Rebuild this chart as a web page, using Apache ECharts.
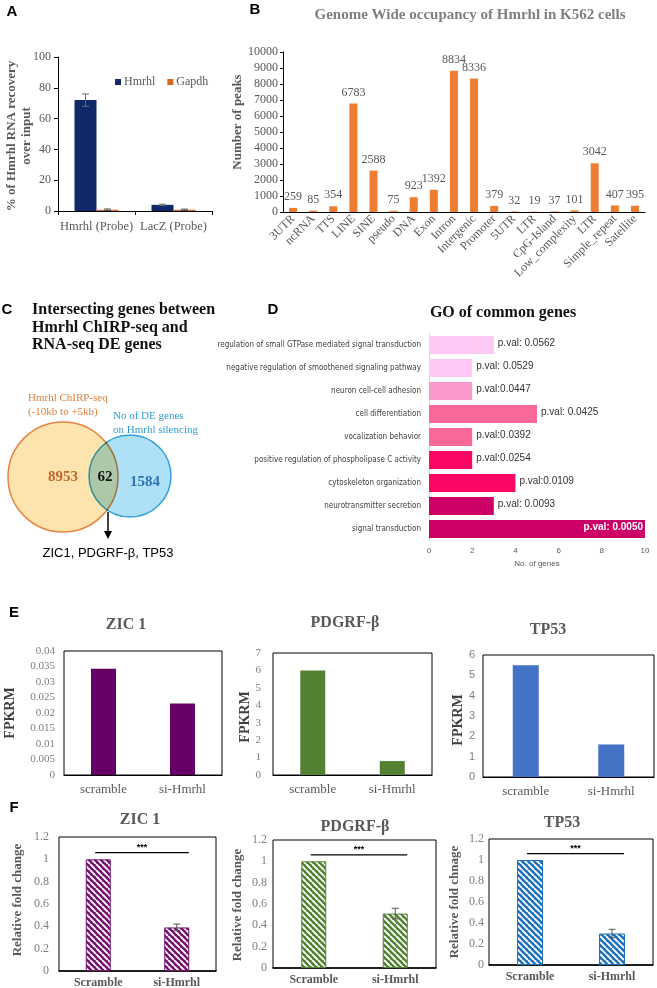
<!DOCTYPE html>
<html><head><meta charset="utf-8">
<script src="https://cdn.jsdelivr.net/npm/echarts@6/dist/echarts.min.js"></script>
<style>html,body{margin:0;padding:0;background:#fff}#c{width:657px;height:988px}</style>
</head><body><div id="c"></div>
<script>
// ---------- DATA ----------
// Panel A
const probeCats = ['Hmrhl (Probe)', 'LacZ (Probe)'];
const hmrhlRecovery = [72, 4];
const hmrhlRecoveryErr = [4, 0.4];
const gapdhRecovery = [0.8, 0.8];
const gapdhRecoveryErr = [0.5, 0.4];
const recoveryTicks = [0, 100, 20];

// Panel B
const regionCats = ['3UTR','ncRNA','TTS','LINE','SINE','pseudo','DNA','Exon','Intron','Intergenic','Promoter','5UTR','LTR','CpG-Island','Low_complexity','LTR','Simple_repeat','Satellite'];
const peakCounts = [259,85,354,6783,2588,75,923,1392,8834,8336,379,32,19,37,101,3042,407,395];
const peakTicks = [0, 10000, 1000];

// Panel C
const vennSetA = ['Hmrhl ChIRP-seq', '(-10kb to +5kb)'];
const vennSetB = ['No of DE genes', 'on Hmrhl silencing'];
const vennCounts = [8953, 62, 1584];
const commonGenes = 'ZIC1, PDGRF-β, TP53';

// Panel D
const goTerms = ['regulation of small GTPase mediated signal transduction','negative regulation of smoothened signaling pathway','neuron cell-cell adhesion','cell differentiation','vocalization behavior','positive regulation of phospholipase C activity','cytoskeleton organization','neurotransmitter secretion','signal transduction'];
const goGeneCounts = [3,2,2,5,2,2,4,3,10];
const goPvals = ['p.val: 0.0562','p.val: 0.0529','p.val:0.0447','p.val: 0.0425','p.val:0.0392','p.val:0.0254','p.val:0.0109','p.val: 0.0093','p.val: 0.0050'];
const goTicks = [0, 10, 2];

// Panel E
const conditionsE = ['scramble','si-Hmrhl'];
const fpkmZIC1 = [0.0343, 0.0231];
const fpkmPDGRFB = [6.0, 0.8];
const fpkmTP53 = [5.5, 1.6];
const fpkmTicksZIC1 = [0, 0.04, 0.005];
const fpkmTicksPDGRFB = [0, 7, 1];
const fpkmTicksTP53 = [0, 6, 1];

// Panel F
const conditionsF = ['Scramble','si-Hmrhl'];
const foldZIC1 = [1.0, 0.39];
const foldZIC1Err = [0, 0.03];
const foldPDGRFB = [1.0, 0.51];
const foldPDGRFBErr = [0, 0.05];
const foldTP53 = [1.0, 0.30];
const foldTP53Err = [0, 0.04];
const foldTicks = [0, 1.2, 0.2];
const sigLabel = '***';
const sigHeight = 1.06;

// ---------- STYLE ----------
const serif = "'Liberation Serif','Times New Roman',serif";
const sans = "'Liberation Sans',Arial,sans-serif";
const narrow = "'Liberation Sans Narrow','DejaVu Sans Condensed','Liberation Sans',sans-serif";
const goColors = ['#fdc8f3','#fdc8f3','#fb99ca','#fa6898','#fa6898','#fc0766','#fc0766','#cc0066','#cc0066'];

function hatch(color){
  const s = 6, c = document.createElement('canvas'); c.width = s; c.height = s;
  const g = c.getContext('2d'); g.fillStyle = color; g.fillRect(0,0,s,s);
  g.strokeStyle = '#fff'; g.lineWidth = 1.9; g.beginPath();
  for (const k of [-s, 0, s]) { g.moveTo(k, 0); g.lineTo(k + s, s); }
  g.stroke();
  return {image: c, repeat: 'repeat'};
}

const G = (o) => Object.assign({containLabel:false, outerBoundsMode:'none'}, o);
const box = {show:true, borderColor:'#000', borderWidth:1, backgroundColor:'transparent'};
const plain = (v) => String(v);

function valAxis(gi, t, o){
  return Object.assign({type:'value', gridIndex:gi, min:t[0], max:t[1], interval:t[2],
    axisLine:{show:false}, axisTick:{show:false}, splitLine:{show:false},
    axisLabel:{fontFamily:serif, fontSize:11, color:'#7f7f7f', margin:8}}, o || {});
}
function catAxis(gi, data, o){
  return Object.assign({type:'category', gridIndex:gi, data:data,
    axisLine:{show:true, lineStyle:{color:'#000', width:1}}, axisTick:{show:false},
    axisLabel:{interval:0, hideOverlap:false, fontFamily:serif, fontSize:13, color:'#595959', margin:8}}, o || {});
}

function errorBars(ai, vals, errs, offset, color){
  return {type:'custom', xAxisIndex:ai, yAxisIndex:ai, z:5, silent:true,
    data: vals.map((v,i)=>[i, v-errs[i], v+errs[i]]).filter(d => d[2] > d[1]),
    renderItem(params, api){
      const lo = api.coord([api.value(0), api.value(1)]);
      const hi = api.coord([api.value(0), api.value(2)]);
      const x = lo[0] + offset, w = 3.5;
      const st = {stroke:color, lineWidth:1};
      return {type:'group', children:[
        {type:'line', shape:{x1:x,y1:lo[1],x2:x,y2:hi[1]}, style:st},
        {type:'line', shape:{x1:x-w,y1:hi[1],x2:x+w,y2:hi[1]}, style:st},
        {type:'line', shape:{x1:x-w,y1:lo[1],x2:x+w,y2:lo[1]}, style:st}
      ]};
    }};
}
function sigBar(ai){
  return {type:'custom', xAxisIndex:ai, yAxisIndex:ai, z:6, silent:true,
    data:[[0, 1, sigHeight]],
    renderItem(params, api){
      const a = api.coord([api.value(0), api.value(2)]);
      const b = api.coord([api.value(1), api.value(2)]);
      const x1 = a[0] - 3, x2 = b[0] + 12;
      return {type:'group', children:[
        {type:'line', shape:{x1:x1,y1:a[1],x2:x2,y2:a[1]}, style:{stroke:'#000', lineWidth:1.2}},
        {type:'text', x:(x1+x2)/2, y:a[1]-1, style:{text:sigLabel, align:'center', verticalAlign:'bottom', textAlign:'center', textVerticalAlign:'bottom', font:'bold 9px ' + sans, fill:'#000'}}
      ]};
    }};
}
function simpleBars(ai, vals, color, o){
  return Object.assign({type:'bar', xAxisIndex:ai, yAxisIndex:ai, data:vals, barWidth:25,
    itemStyle:{color:color}}, o || {});
}

function T(text, x, y, font, fill, extra){
  const al = (extra && extra.align) || 'center';
  const va = (extra && extra.verticalAlign) || 'middle';
  return Object.assign({type:'text', x:x, y:y, z:10, silent:true,
    style:{text:text, font:font, fill:fill, align:al, verticalAlign:va, textAlign:al, textVerticalAlign:va}},
    extra && extra.rotation ? {rotation: extra.rotation} : {});
}
const R90 = Math.PI / 2;

// ---------- OPTION ----------
const goData = goGeneCounts.map((v, i) => ({
  value: v, itemStyle: {color: goColors[i]},
  label: v >= goTicks[1]
    ? {position:'insideRight', color:'#fff', fontWeight:'bold', distance:2}
    : {position:'right', color:'#333', distance:4}
}));
const fBoldLabel = {interval:0, hideOverlap:false, fontFamily:serif, fontSize:12, fontWeight:'bold', color:'#595959', margin:6};

const option = {
  animation: false,
  backgroundColor: '#fff',
  grid: [
    G({left:58, top:57, width:154, height:154}),
    G({left:283, top:52, width:362, height:160}),
    G({left:429, top:333.5, width:216, height:207}),
    G(Object.assign({left:64, top:651, width:158, height:124}, box)),
    G(Object.assign({left:273, top:653, width:159, height:122}, box)),
    G(Object.assign({left:483, top:655, width:171, height:122}, box)),
    G(Object.assign({left:59, top:837, width:157, height:134}, box)),
    G(Object.assign({left:273, top:840, width:163, height:128}, box)),
    G(Object.assign({left:489, top:839, width:164, height:126}, box))
  ],
  legend: {
    data:['Hmrhl','Gapdh'], left:110, top:71, itemWidth:6, itemHeight:6, itemGap:12,
    icon:'rect', selectedMode:false,
    textStyle:{fontFamily:serif, fontSize:12, color:'#595959', padding:[0,0,0,-2]}
  },
  xAxis: [
    catAxis(0, probeCats, {axisTick:{show:true, length:4, lineStyle:{color:'#000'}}, axisLabel:{interval:0, hideOverlap:false, fontFamily:serif, fontSize:12.5, color:'#595959', margin:9}}),
    catAxis(1, regionCats, {axisLabel:{interval:0, hideOverlap:false, rotate:45, fontFamily:serif, fontSize:12, color:'#595959', margin:5}}),
    {type:'value', gridIndex:2, min:goTicks[0], max:goTicks[1], interval:goTicks[2],
      axisLine:{show:false}, axisTick:{show:false}, splitLine:{show:false},
      axisLabel:{fontFamily:sans, fontSize:8, color:'#595959', margin:6},
      name:'No. of genes', nameLocation:'middle', nameGap:19,
      nameTextStyle:{fontFamily:sans, fontSize:8, color:'#595959'}},
    catAxis(3, conditionsE),
    catAxis(4, conditionsE),
    catAxis(5, conditionsE),
    catAxis(6, conditionsF, {axisLine:{show:true, lineStyle:{color:'#000', width:1.5}}, axisLabel:fBoldLabel}),
    catAxis(7, conditionsF, {axisLine:{show:true, lineStyle:{color:'#000', width:1.5}}, axisLabel:fBoldLabel}),
    catAxis(8, conditionsF, {axisLine:{show:true, lineStyle:{color:'#000', width:1.5}}, axisLabel:fBoldLabel})
  ],
  yAxis: [
    valAxis(0, recoveryTicks, {axisLine:{show:true, lineStyle:{color:'#000'}}, axisTick:{show:true, length:4, lineStyle:{color:'#000'}},
      axisLabel:{fontFamily:serif, fontSize:12, color:'#595959', margin:7, formatter:plain}}),
    valAxis(1, peakTicks, {axisLine:{show:true, lineStyle:{color:'#000'}}, axisTick:{show:true, length:3, lineStyle:{color:'#000'}},
      axisLabel:{fontFamily:serif, fontSize:12, color:'#595959', margin:5, formatter:plain}}),
    {type:'category', gridIndex:2, data:goTerms, inverse:true,
      axisLine:{show:true, lineStyle:{color:'#d9d9d9'}}, axisTick:{show:false},
      axisLabel:{interval:0, fontFamily:narrow, fontSize:8, color:'#404040', margin:8}},
    valAxis(3, fpkmTicksZIC1, {axisLabel:{fontFamily:serif, fontSize:11, color:'#7f7f7f', margin:9}}),
    valAxis(4, fpkmTicksPDGRFB, {axisLabel:{fontFamily:serif, fontSize:11, color:'#7f7f7f', margin:12}}),
    valAxis(5, fpkmTicksTP53, {axisLabel:{fontFamily:sans, fontSize:11, color:'#7f7f7f', margin:8}}),
    valAxis(6, foldTicks, {axisLabel:{fontFamily:serif, fontSize:12, color:'#7f7f7f', margin:10}}),
    valAxis(7, foldTicks, {axisLabel:{fontFamily:serif, fontSize:12, color:'#7f7f7f', margin:6}}),
    valAxis(8, foldTicks, {axisLabel:{fontFamily:serif, fontSize:12, color:'#7f7f7f', margin:5}})
  ],
  series: [
    // A
    {name:'Hmrhl', type:'bar', xAxisIndex:0, yAxisIndex:0, data:hmrhlRecovery, barWidth:22, barGap:'0%', itemStyle:{color:'#10296b'}},
    {name:'Gapdh', type:'bar', xAxisIndex:0, yAxisIndex:0, data:gapdhRecovery, barWidth:22, barGap:'0%', itemStyle:{color:'#d5691f'}},
    errorBars(0, hmrhlRecovery, hmrhlRecoveryErr, -11, '#6a6a6a'),
    errorBars(0, gapdhRecovery, gapdhRecoveryErr, 11, '#555'),
    // B
    {type:'bar', xAxisIndex:1, yAxisIndex:1, data:peakCounts, barWidth:8, itemStyle:{color:'#ed7d31'},
      label:{show:true, position:'top', distance:5, fontFamily:serif, fontSize:12, color:'#595959'}},
    // D
    {type:'bar', xAxisIndex:2, yAxisIndex:2, data:goData, barCategoryGap:'22%',
      label:{show:true, fontFamily:sans, fontSize:10, offset:[0,-2], formatter:(p)=>goPvals[p.dataIndex]}},
    // E
    simpleBars(3, fpkmZIC1, '#660066'),
    simpleBars(4, fpkmPDGRFB, '#548235'),
    simpleBars(5, fpkmTP53, '#4472c4', {barWidth:26}),
    // F
    simpleBars(6, foldZIC1, null, {itemStyle:{color:hatch('#74126f'), borderColor:'#74126f', borderWidth:1}}),
    simpleBars(7, foldPDGRFB, null, {itemStyle:{color:hatch('#548235'), borderColor:'#548235', borderWidth:1}}),
    simpleBars(8, foldTP53, null, {barWidth:26, itemStyle:{color:hatch('#1f72bd'), borderColor:'#1f72bd', borderWidth:1}}),
    errorBars(6, foldZIC1, foldZIC1Err, 0, '#555'),
    errorBars(7, foldPDGRFB, foldPDGRFBErr, 0, '#555'),
    errorBars(8, foldTP53, foldTP53Err, 0, '#555'),
    sigBar(6), sigBar(7), sigBar(8)
  ],
  graphic: [
    // panel letters
    T('A', 12, 12, 'bold 15px ' + sans, '#000'),
    T('B', 255, 10, 'bold 15px ' + sans, '#000'),
    T('C', 7, 310, 'bold 15px ' + sans, '#000'),
    T('D', 273, 310, 'bold 15px ' + sans, '#000'),
    T('E', 14, 613, 'bold 15px ' + sans, '#000'),
    T('F', 14, 808, 'bold 15px ' + sans, '#000'),
    // A
    T('% of Hmrhl RNA recovery', 12, 136, 'bold 13px ' + serif, '#595959', {rotation:R90}),
    T('over input', 27, 136, 'bold 13px ' + serif, '#595959', {rotation:R90}),
    // B
    T('Genome Wide occupancy of Hmrhl in K562 cells', 470, 15, 'bold 15px ' + serif, '#7f7f7f'),
    T('Number of peaks', 238, 122, 'bold 13px ' + serif, '#595959', {rotation:R90}),
    // C
    T('Intersecting genes between', 32, 310, 'bold 16px ' + serif, '#111', {align:'left'}),
    T('Hmrhl ChIRP-seq and', 32, 328, 'bold 16px ' + serif, '#111', {align:'left'}),
    T('RNA-seq DE genes', 32, 345, 'bold 16px ' + serif, '#111', {align:'left'}),
    {type:'circle', shape:{cx:63, cy:477, r:55}, style:{fill:'#fde4ae', stroke:'#e8843f', lineWidth:1.5}, z:5, silent:true},
    {type:'circle', shape:{cx:130, cy:476, r:41}, style:{fill:'#aee0f7', stroke:'#3aacdf', lineWidth:1.5, blend:'multiply'}, z:6, silent:true},
    T(vennSetA[0], 28, 398, '11px ' + serif, '#e0803a', {align:'left'}),
    T(vennSetA[1], 28, 412, '11px ' + serif, '#e0803a', {align:'left'}),
    T(vennSetB[0], 113, 416, '11px ' + serif, '#2f9bd6', {align:'left'}),
    T(vennSetB[1], 113, 430, '11px ' + serif, '#2f9bd6', {align:'left'}),
    T(String(vennCounts[0]), 63, 477, 'bold 15px ' + serif, '#c0692a'),
    T(String(vennCounts[1]), 105, 477, 'bold 15px ' + serif, '#111'),
    T(String(vennCounts[2]), 145, 482, 'bold 15px ' + serif, '#2f75b5'),
    {type:'line', shape:{x1:108, y1:512, x2:108, y2:532}, style:{stroke:'#000', lineWidth:1.5}, z:10, silent:true},
    {type:'polygon', shape:{points:[[104,531],[112,531],[108,539]]}, style:{fill:'#000'}, z:10, silent:true},
    T(commonGenes, 108, 553, '13px ' + sans, '#000'),
    // D
    T('GO of common genes', 503, 313, 'bold 16px ' + serif, '#111'),
    // E
    T('ZIC 1', 126, 625, 'bold 16px ' + serif, '#595959'),
    T('PDGRF-β', 345, 623, 'bold 16px ' + serif, '#595959'),
    T('TP53', 548, 630, 'bold 16px ' + serif, '#595959'),
    T('FPKRM', 10, 713, 'bold 14px ' + serif, '#404040', {rotation:R90}),
    T('FPKRM', 245, 717, 'bold 14px ' + serif, '#404040', {rotation:R90}),
    T('FPKRM', 458, 720, 'bold 14px ' + serif, '#404040', {rotation:R90}),
    // F
    T('ZIC 1', 140, 820, 'bold 16px ' + serif, '#595959'),
    T('PDGRF-β', 355, 827, 'bold 16px ' + serif, '#595959'),
    T('TP53', 562, 823, 'bold 16px ' + serif, '#595959'),
    T('Relative fold change', 18, 900, 'bold 13px ' + serif, '#595959', {rotation:R90}),
    T('Relative fold change', 238, 905, 'bold 13px ' + serif, '#595959', {rotation:R90}),
    T('Relative fold chnage', 455, 902, 'bold 13px ' + serif, '#595959', {rotation:R90})
  ]
};

const chart = echarts.init(document.getElementById('c'), null, {renderer:'canvas'});
chart.setOption(option);
</script>
</body></html>
